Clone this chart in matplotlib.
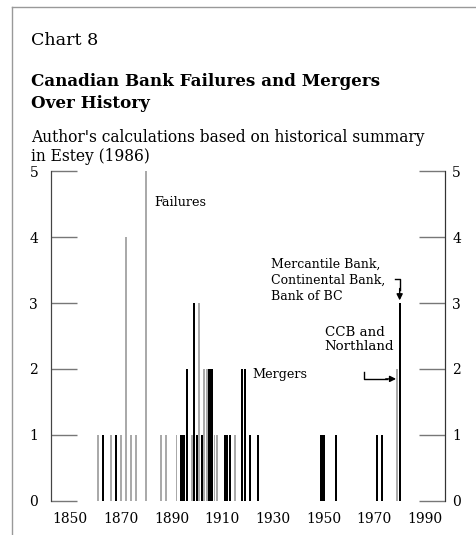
import matplotlib.pyplot as plt
from matplotlib.lines import Line2D

# data (bank events per year)
fail_years = [1861, 1866, 1870, 1872, 1874, 1876, 1880, 1886, 1888, 1892,
              1898, 1901, 1903, 1904, 1907, 1908, 1915, 1979]
fail_counts = [1, 1, 1, 4, 1, 1, 5, 1, 1, 1,
               1, 3, 2, 2, 1, 1, 1, 2]

merge_years = [1863, 1868, 1894, 1895, 1896, 1899, 1900, 1902, 1905, 1906,
               1911, 1912, 1913, 1918, 1919, 1921, 1924, 1949, 1950, 1955,
               1971, 1973, 1980]
merge_counts = [1, 1, 1, 1, 2, 3, 1, 1, 2, 2,
                1, 1, 1, 2, 2, 1, 1, 1, 1, 1,
                1, 1, 3]

x_ticks = [1850, 1870, 1890, 1910, 1930, 1950, 1970, 1990]
y_ticks = [0, 1, 2, 3, 4, 5]

W, H = 476, 535
plt.rcParams['font.family'] = 'DejaVu Serif'

fig = plt.figure(figsize=(W / 100, H / 100), dpi=100)


def px(x, y):
    # figure pixel coords (from top-left) -> figure fraction
    return x / W, 1 - y / H


# frame around the panel
fig.add_artist(Line2D([12 / W, 12 / W], [0, 1 - 7 / H], color='#999999', lw=1))
fig.add_artist(Line2D([12 / W, 1], [1 - 7 / H, 1 - 7 / H], color='#999999', lw=1))

fig.text(*px(31, 45), 'Chart 8', fontsize=12.6, va='baseline')
fig.text(*px(31, 86), 'Canadian Bank Failures and Mergers', fontsize=12.1,
         fontweight='bold', va='baseline')
fig.text(*px(31, 108), 'Over History', fontsize=12.1, fontweight='bold', va='baseline')
fig.text(*px(31, 142), "Author's calculations based on historical summary",
         fontsize=11.2, va='baseline')
fig.text(*px(31, 161), 'in Estey (1986)', fontsize=11.2, va='baseline')

ax = fig.add_axes([50.7 / W, 34 / H, (445.3 - 50.7) / W, 330 / H])

ax.bar(fail_years, fail_counts, width=0.75, color='#aaaaaa', zorder=2)
ax.bar(merge_years, merge_counts, width=0.85, color='black', zorder=3)

ax.set_xlim(1842.4, 1998.0)
ax.set_ylim(0, 5)
ax.set_xticks(x_ticks)
ax.set_yticks(y_ticks)

# right-hand scale on its own axis so its labels can sit closer
ax2 = ax.twinx()
ax2.set_ylim(0, 5)
ax2.set_yticks(y_ticks)

for a in (ax, ax2):
    a.spines['top'].set_visible(False)
    a.spines['bottom'].set_visible(False)
    a.spines['left'].set_color('#444444')
    a.spines['right'].set_color('#333333')

ax.tick_params(axis='y', direction='in', length=19, width=1, color='#777777',
               labelsize=10, left=True, right=False, pad=9)
ax2.tick_params(axis='y', direction='in', length=19, width=1, color='#777777',
                labelsize=10, right=True, left=False, pad=5)
ax.tick_params(axis='x', length=0, labelsize=10, pad=8)

ax.text(1883.2, 4.52, 'Failures', fontsize=9.2, va='center', ha='left')
ax.text(1921.8, 1.92, 'Mergers', fontsize=9.2, va='center', ha='left')
ax.text(1950.4, 2.45, 'CCB and\nNorthland', fontsize=9.6, va='center', ha='left',
        linespacing=1.15)
ax.text(1929.4, 3.58, 'Mercantile Bank,', fontsize=9, va='center', ha='left')
ax.text(1929.4, 3.34, 'Continental Bank,', fontsize=9, va='center', ha='left')
ax.text(1929.4, 3.10, 'Bank of BC', fontsize=9, va='center', ha='left')

# elbow arrows
ax.plot([1966.0, 1966.0, 1975.0], [1.95, 1.85, 1.85], color='black', lw=1)
ax.annotate('', xy=(1978.6, 1.85), xytext=(1974.5, 1.85),
            arrowprops=dict(arrowstyle='-|>', color='black', lw=1,
                            mutation_scale=9, shrinkA=0, shrinkB=0))
ax.plot([1978.0, 1980.0, 1980.0], [3.36, 3.36, 3.2], color='black', lw=1)
ax.annotate('', xy=(1980.0, 3.04), xytext=(1980.0, 3.22),
            arrowprops=dict(arrowstyle='-|>', color='black', lw=1,
                            mutation_scale=9, shrinkA=0, shrinkB=0))

fig.savefig('out.png', dpi=100)
